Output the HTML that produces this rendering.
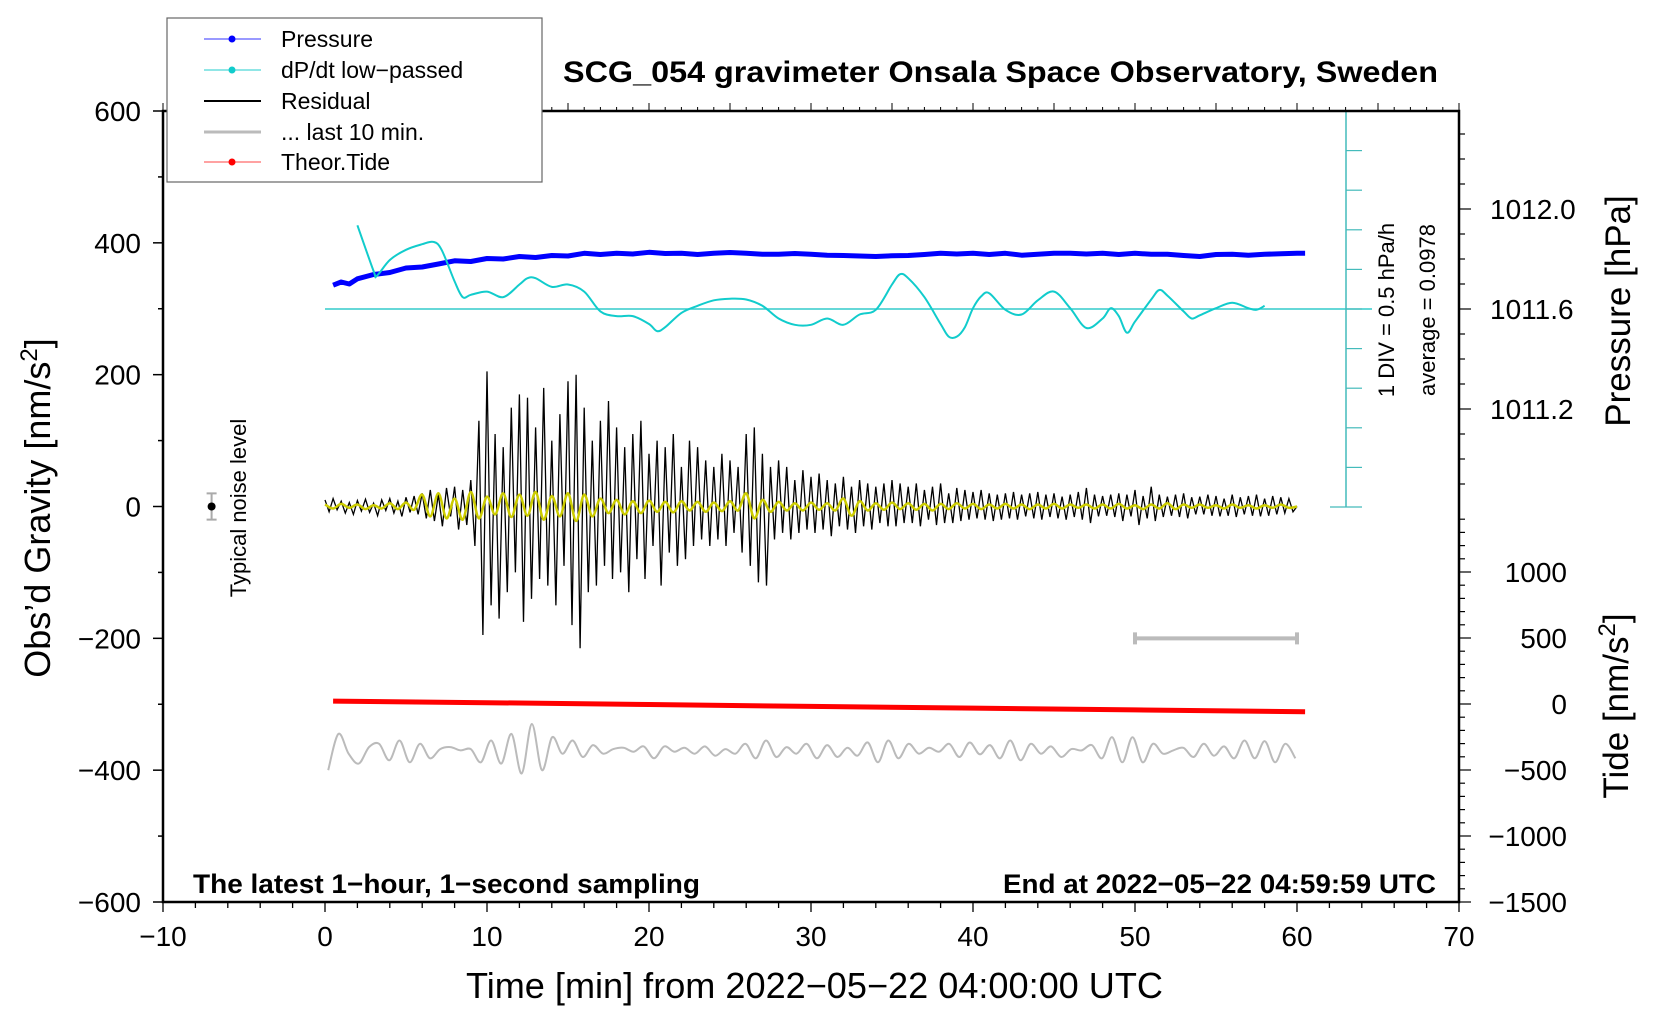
<!DOCTYPE html>
<html><head><meta charset="utf-8"><style>
html,body{margin:0;padding:0;background:#fff;}
svg{display:block;font-family:"Liberation Sans",sans-serif;}
</style></head><body>
<svg id="chart" width="1660" height="1020" viewBox="0 0 1660 1020">
<rect x="0" y="0" width="1660" height="1020" fill="#fff"/>
<g id="marks"></g>
<g id="axes"></g>
<text x="563" y="82" textLength="875" lengthAdjust="spacingAndGlyphs" font-size="30" font-weight="bold">SCG_054 gravimeter Onsala Space Observatory, Sweden</text>
<text x="193" y="893" textLength="507" lengthAdjust="spacingAndGlyphs" font-size="27" font-weight="bold">The latest 1−hour, 1−second sampling</text>
<text x="1003" y="893" textLength="433" lengthAdjust="spacingAndGlyphs" font-size="27" font-weight="bold">End at 2022−05−22 04:59:59 UTC</text>
<text x="466" y="998" textLength="697" lengthAdjust="spacingAndGlyphs" font-size="36">Time [min] from 2022−05−22 04:00:00 UTC</text>
<text transform="translate(50,508) rotate(-90)" text-anchor="middle" font-size="36">Obs’d Gravity [nm/s<tspan baseline-shift="super" font-size="24">2</tspan>]</text>
<text transform="translate(1630,311) rotate(-90)" text-anchor="middle" font-size="35">Pressure [hPa]</text>
<text transform="translate(1628,706) rotate(-90)" text-anchor="middle" font-size="35">Tide [nm/s<tspan baseline-shift="super" font-size="24">2</tspan>]</text>
<text transform="translate(246,508) rotate(-90)" text-anchor="middle" font-size="22">Typical noise level</text>
<text transform="translate(1394,310) rotate(-90)" text-anchor="middle" font-size="22">1 DIV = 0.5 hPa/h</text>
<text transform="translate(1435,310) rotate(-90)" text-anchor="middle" font-size="22">average = 0.0978</text>
<g>
<rect x="167" y="18" width="375" height="164" fill="#fff" stroke="#666" stroke-width="1.2"/>
<g><line x1="204" y1="39" x2="261" y2="39" stroke="#33f" stroke-width="1"/><circle cx="232" cy="39" r="3.5" fill="#00f"/><text x="281" y="47" font-size="23">Pressure</text></g>
<g><line x1="204" y1="70" x2="261" y2="70" stroke="#2cc" stroke-width="1"/><circle cx="232" cy="70" r="3.5" fill="#1cc"/><text x="281" y="78" font-size="23">dP/dt low−passed</text></g>
<g><line x1="204" y1="101" x2="261" y2="101" stroke="#000" stroke-width="2"/><text x="281" y="109" font-size="23">Residual</text></g>
<g><line x1="204" y1="132" x2="261" y2="132" stroke="#bbb" stroke-width="3"/><text x="281" y="140" font-size="23">... last 10 min.</text></g>
<g><line x1="204" y1="162" x2="261" y2="162" stroke="#f44" stroke-width="1"/><circle cx="232" cy="162" r="3.5" fill="#f00"/><text x="281" y="170" font-size="23">Theor.Tide</text></g>
</g>
</svg>
<script>
// ---- data ----
const residual = [10,-8,12,-5,8,-10,6,-12,9,-7,11,-9,5,-14,10,-6,12,-10,8,-15,14,-9,16,-12,
20,-18,25,-22,18,-30,28,-15,30,-35,25,-28,
40,-60,130,-195,205,-150,110,-170,90,-130,150,-100,
170,-175,165,-140,120,-110,180,-120,100,-150,140,-90,
190,-180,200,-215,150,-130,100,-120,130,-90,160,-110,
120,-100,90,-130,110,-80,130,-110,80,-60,100,-120,
90,-70,110,-90,60,-80,100,-60,90,-50,70,-60,
60,-50,80,-60,70,-40,60,-70,110,-90,120,-115,
80,-120,60,-50,70,-40,60,-50,40,-40,55,-35,
45,-40,50,-35,40,-45,35,-30,45,-35,30,-40,40,-30,35,-35,30,-25,35,-30,40,-30,35,-25,
30,-25,35,-30,25,-20,30,-28,35,-25,20,-25,28,-22,25,-20,22,-18,25,-20,20,-22,18,-20,
20,-18,22,-20,18,-15,20,-18,22,-20,18,-16,20,-18,15,-20,18,-16,22,-20,28,-25,18,-15,
16,-14,18,-16,20,-22,18,-15,25,-28,16,-18,30,-22,18,-16,15,-14,18,-16,20,-18,14,-12,
15,-12,18,-14,16,-15,12,-14,18,-16,14,-12,16,-14,18,-15,12,-14,16,-12,14,-10,12,-8,0];
const residualSmooth = [3,-3,4,-2,3,-4,2,-3,5,-4,6,-5,
18,-15,20,-18,12,-20,22,-18,15,-12,20,-16,
18,-14,22,-20,16,-15,20,-22,18,-15,12,-10,
10,-12,8,-10,9,-8,7,-9,8,-6,7,-8,
6,-7,8,-6,20,-18,10,-8,7,-6,5,-6,
6,-5,5,-6,12,-14,8,-6,5,-5,6,-4,
5,-5,4,-6,4,-4,5,-3,4,-4,3,-3,
4,-3,3,-4,3,-3,4,-3,3,-2,3,-3,
3,-3,4,-3,2,-4,3,-3,5,-4,3,-2,
3,-2,2,-3,3,-2,2,-3,2,-2,3,-2,0];
const last10 = [-30,25,-5,-20,5,10,-15,15,-18,10,-12,2,5,0,2,-18,15,-20,25,-35,40,-30,20,-5,15,-10,8,-5,2,4,-2,6,-12,6,-2,4,-5,6,-8,2,-5,10,-12,15,-10,5,-5,10,-12,8,-10,4,-8,12,-18,15,-12,10,-5,4,-2,10,-10,12,-6,8,-12,15,-15,10,-5,6,-10,2,0,8,-12,20,-18,20,-18,10,-5,0,4,-10,10,-8,6,-12,15,-12,14,-18,10,-12];
const pressureT = [0.5,1,1.5,2,3,4,5,6,7,8,9,10,11,12,13,14,15,16,17,18,19,20,21,22,23,24,25,26,27,28,29,30,31,32,33,34,35,36,37,38,39,40,41,42,43,44,45,46,47,48,49,50,51,52,53,54,55,56,57,58,59,60,60.5];
const pressure = [1011.695,1011.708,1011.700,1011.721,1011.738,1011.746,1011.764,1011.768,1011.780,1011.793,1011.790,1011.802,1011.800,1011.810,1011.806,1011.814,1011.812,1011.823,1011.818,1011.823,1011.820,1011.827,1011.822,1011.823,1011.818,1011.823,1011.826,1011.823,1011.819,1011.819,1011.822,1011.819,1011.815,1011.814,1011.812,1011.810,1011.813,1011.814,1011.818,1011.823,1011.820,1011.823,1011.818,1011.823,1011.815,1011.819,1011.823,1011.823,1011.820,1011.823,1011.818,1011.823,1011.819,1011.819,1011.814,1011.810,1011.818,1011.819,1011.815,1011.819,1011.821,1011.823,1011.823];
const dpdtT = [2,3,3.2,4,5,6,6.7,7.2,8,8.5,9,10,11,12,12.5,13,14,15,16,17,18,19,20,20.5,21,22,23,24,25,26,27,28,29,30,31,32,33,34,35,35.5,36,37,38,38.5,39,39.5,40,40.5,41,42,43,44,45,46,47,48,48.5,49,49.5,50,51,51.5,52,53,53.5,54,55,56,57,57.5,58];
const dpdtDev = [1.06,0.48,0.42,0.62,0.75,0.82,0.85,0.75,0.35,0.15,0.18,0.22,0.15,0.31,0.39,0.39,0.28,0.31,0.22,-0.03,-0.09,-0.09,-0.19,-0.28,-0.23,-0.05,0.04,0.11,0.13,0.12,0.04,-0.12,-0.20,-0.20,-0.12,-0.20,-0.07,-0.01,0.31,0.44,0.39,0.15,-0.19,-0.35,-0.35,-0.23,0.01,0.16,0.20,-0.01,-0.07,0.11,0.22,0.01,-0.24,-0.12,0.01,-0.09,-0.30,-0.16,0.12,0.24,0.17,-0.03,-0.12,-0.08,0.01,0.08,0.01,-0.01,0.04];
const dpdtAverage = 0.0978;
const tideT = [0.5,10,20,30,40,50,60.5];
const tide = [22,10,-4,-18,-31,-45,-58];
const gravTicks = [-600,-400,-200,0,200,400,600];
const timeTicks = [-10,0,10,20,30,40,50,60,70];
const pressTicks = [1011.2,1011.6,1012.0];
const tideTicks = [-1500,-1000,-500,0,500,1000];

// ---- scales ----
const X0=163,X1=1459,Y0=111,Y1=902;
const xs = t => X0 + (t+10)*(X1-X0)/80;
const ys = v => Y1 - (v+600)*(Y1-Y0)/1200;
const yp = p => 309 - (p-1011.6)*250;
const yd = d => 309 - (d-dpdtAverage)*79;
const yt = v => 704 - v*0.132;
const NS='http://www.w3.org/2000/svg';
const marks=document.getElementById('marks'), axes=document.getElementById('axes');
function mk(tag, attrs, parent){const e=document.createElementNS(NS,tag);for(const k in attrs)e.setAttribute(k,attrs[k]);parent.appendChild(e);return e;}
function path(pts){return pts.map((p,i)=>(i?'L':'M')+p[0].toFixed(1)+','+p[1].toFixed(1)).join('');}
function smooth(pts){if(pts.length<3)return path(pts);let d='M'+pts[0][0].toFixed(1)+','+pts[0][1].toFixed(1);
 for(let i=0;i<pts.length-1;i++){const p0=pts[Math.max(0,i-1)],p1=pts[i],p2=pts[i+1],p3=pts[Math.min(pts.length-1,i+2)];
 const c1=[p1[0]+(p2[0]-p0[0])/6,p1[1]+(p2[1]-p0[1])/6],c2=[p2[0]-(p3[0]-p1[0])/6,p2[1]-(p3[1]-p1[1])/6];
 d+=`C${c1[0].toFixed(1)},${c1[1].toFixed(1)} ${c2[0].toFixed(1)},${c2[1].toFixed(1)} ${p2[0].toFixed(1)},${p2[1].toFixed(1)}`;}return d;}

let e;
e=mk('line',{x1:xs(0),y1:yd(dpdtAverage),x2:1372,y2:yd(dpdtAverage),stroke:'#3cc',"stroke-width":1.5},marks);


e=mk('line',{x1:1346,y1:Y0,x2:1346,y2:507,stroke:'#4bb',"stroke-width":1.5},marks);


for(let i=0;i<=10;i++){const y=Y0+i*(507-Y0)/10;const L=(i===0||i===10)?16:0;
 mk('line',{x1:1346-L,y1:y,x2:1362,y2:y,stroke:'#4bb',"stroke-width":1.2},marks);}

e=mk('path',{d:path(residual.map((v,i)=>[xs(i*0.25),ys(v)])),fill:'none',stroke:'#000',"stroke-width":1.3},marks);


e=mk('path',{d:smooth(residualSmooth.map((v,i)=>[xs(i*0.5),ys(v)])),fill:'none',stroke:'#cc0',"stroke-width":2.5},marks);


e=mk('path',{d:smooth(last10.map((v,i)=>[xs(0.2+i*59.7/(last10.length-1)),ys(-370+v)])),fill:'none',stroke:'#bbb',"stroke-width":2},marks);


e=mk('path',{d:`M${xs(50)},${ys(-200)}H${xs(60)}M${xs(50)},${ys(-200)-6}v12M${xs(60)},${ys(-200)-6}v12`,stroke:'#bbb',"stroke-width":4,fill:'none'},marks);


e=mk('path',{d:path(tide.map((v,i)=>[xs(tideT[i]),yt(v)])),fill:'none',stroke:'#f00',"stroke-width":5},marks);


e=mk('path',{d:path(pressure.map((v,i)=>[xs(pressureT[i]),yp(v)])),fill:'none',stroke:'#00f',"stroke-width":5,"stroke-linejoin":"round"},marks);


e=mk('path',{d:smooth(dpdtDev.map((v,i)=>[xs(dpdtT[i]),yd(dpdtAverage+v)])),fill:'none',stroke:'#1cc',"stroke-width":2,"stroke-linejoin":"round"},marks);


e=mk('path',{d:`M${xs(-7)},${ys(-20)}V${ys(20)}M${xs(-7)-5},${ys(-20)}h10M${xs(-7)-5},${ys(20)}h10`,stroke:'#aaa',"stroke-width":2,fill:'none'},marks);


mk('circle',{cx:xs(-7),cy:ys(0),r:4,fill:'#000'},marks);

e=mk('rect',{x:X0,y:Y0,width:X1-X0,height:Y1-Y0,fill:'none',stroke:'#000',"stroke-width":2.5},axes);


for(let v=-600;v<=600;v+=100){const maj=v%200===0;mk('line',{x1:X0-(maj?10:5),y1:ys(v),x2:X0,y2:ys(v),stroke:'#000',"stroke-width":1.5},axes);}
gravTicks.forEach(v=>{const t=mk('text',{x:141,y:ys(v)+10,"text-anchor":"end","font-size":28},axes);t.textContent=String(v).replace('-','−');

});
for(let t=-10;t<=70;t+=2){const maj=t%10===0;mk('line',{x1:xs(t),y1:Y1,x2:xs(t),y2:Y1+(maj?10:6),stroke:'#000',"stroke-width":1.3},axes);}
timeTicks.forEach(v=>{const t=mk('text',{x:xs(v),y:946,"text-anchor":"middle","font-size":28},axes);t.textContent=String(v).replace('-','−');

});
for(let t=-10;t<=70;t+=1){const maj=t%5===0;mk('line',{x1:xs(t),y1:Y0,x2:xs(t),y2:Y0-(maj?8:4),stroke:'#000',"stroke-width":1},axes);}
for(let k=0;k<=16;k++){const p=1010.8+k*0.1;const y=yp(p);if(y<Y0-1||y>507)continue;const maj=Math.abs((p-1011.2)/0.4-Math.round((p-1011.2)/0.4))<0.01;
 mk('line',{x1:X1,y1:y,x2:X1+(maj?12:6),y2:y,stroke:'#000',"stroke-width":1.2},axes);}
pressTicks.forEach(v=>{const t=mk('text',{x:1490,y:yp(v)+10,"font-size":28},axes);t.textContent=v.toFixed(1);

});
for(let v=-1500;v<=1400;v+=100){const maj=v%500===0;mk('line',{x1:X1,y1:yt(v),x2:X1+(maj?12:6),y2:yt(v),stroke:'#000',"stroke-width":1.2},axes);}
tideTicks.forEach(v=>{const t=mk('text',{x:1567,y:yt(v)+10,"text-anchor":"end","font-size":28},axes);t.textContent=String(v).replace('-','−');

});
</script>
</body></html>
